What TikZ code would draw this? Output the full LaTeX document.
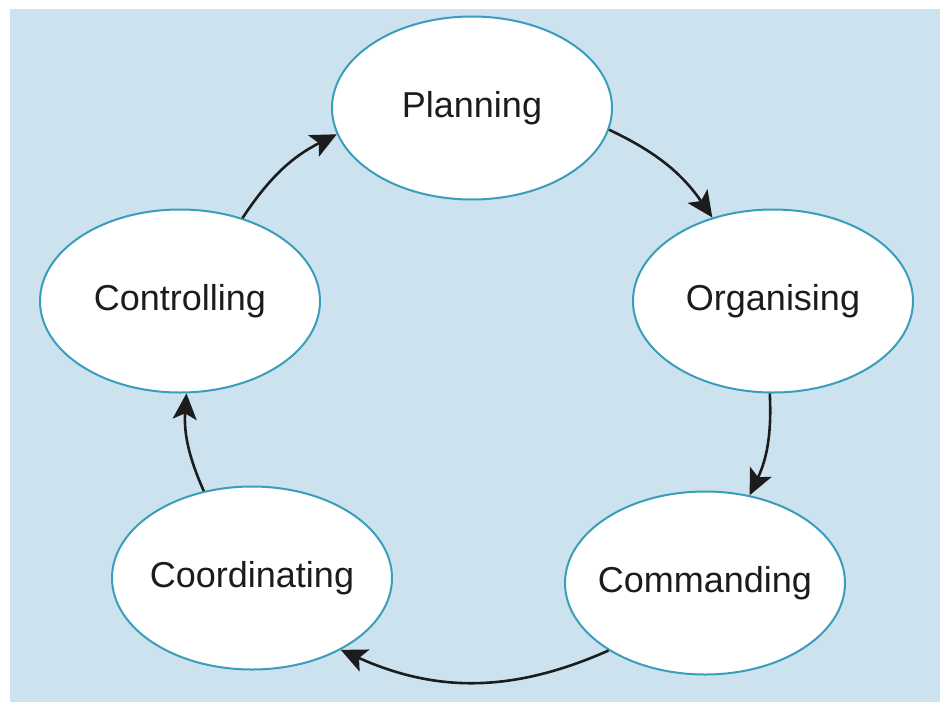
\documentclass[tikz,border=0pt]{standalone}
\usepackage{fontspec}
\setmainfont{Liberation Sans}
\usetikzlibrary{shapes.geometric,arrows.meta}
\definecolor{bgblue}{HTML}{CCE3EF}
\definecolor{rim}{HTML}{3A9EBB}
\definecolor{ink}{HTML}{1C1C1C}
\newcommand{\stagetext}[1]{\makebox[0pt]{#1}}
\tikzset{
  stage/.style={ellipse, draw=rim, line width=2pt, fill=white, inner sep=0pt,
    minimum width=280pt, minimum height=183pt, text=ink,
    font=\fontsize{36}{40}\selectfont},
  flow/.style={draw=ink, line width=2.6pt, -{Stealth[length=26pt,width=24pt,inset=6pt]}}
}
\begin{document}
\begin{tikzpicture}[x=1pt,y=-1pt]
\useasboundingbox (0,0) rectangle (940,702);
\fill[white] (0,0) rectangle (940,702);
\fill[bgblue] (10,9) rectangle (940,702);
\node[stage] (plan) at (472,108) {\stagetext{Planning}};
\node[stage] (org) at (773,301) {\stagetext{Organising}};
\node[stage] (com) at (705,583) {\stagetext{Commanding}};
\node[stage] (coo) at (252,578) {\stagetext{Coordinating}};
\node[stage] (con) at (180,301) {\stagetext{Controlling}};
\draw[flow] (plan.-9) to[bend left=15] (org.126);
\draw[flow] (org.-92) to[bend left=14] (com.63);
\draw[flow] (com.215) to[bend left=24] (coo.-39);
\draw[flow] (coo.119) to[bend left=14] (con.-86);
\draw[flow] (con.53) to[bend left=15] (plan.191);
\end{tikzpicture}
\end{document}
